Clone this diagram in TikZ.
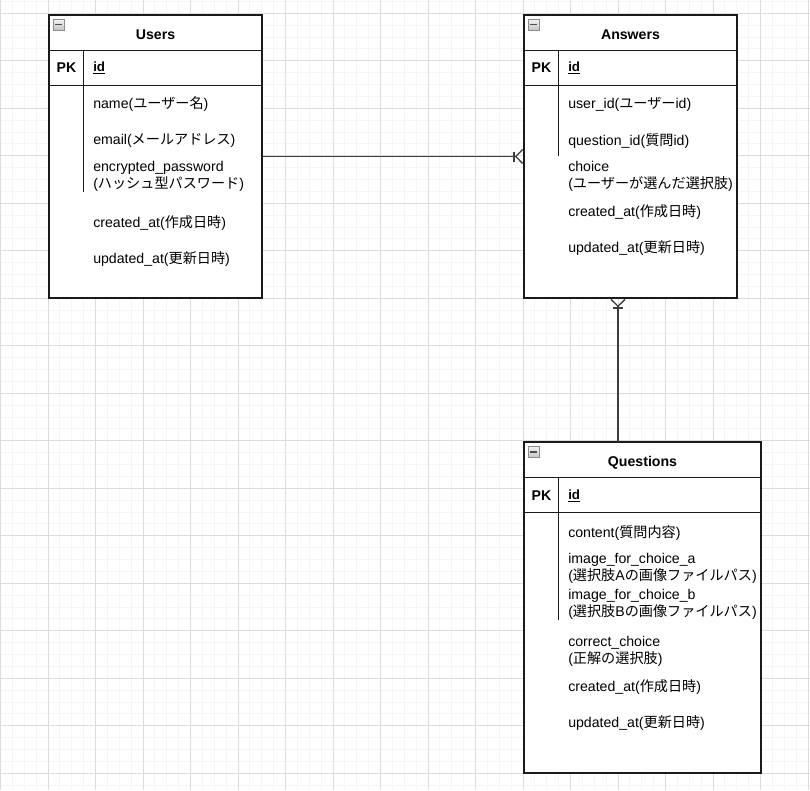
\documentclass[tikz,border=0pt]{standalone}
\usepackage{fontspec}
\setmainfont{Liberation Sans}
\newfontfamily\jpfont{Noto Sans CJK JP}
\newcommand{\ja}[1]{{\jpfont #1}}
\usetikzlibrary{arrows.meta, positioning, calc}
\definecolor{gridmaj}{HTML}{DCDCDC}
\definecolor{gridmin}{HTML}{F5F5F5}
\definecolor{ink}{HTML}{1A1A1A}
\definecolor{icongray}{HTML}{8C8C8C}

\begin{document}
\begin{tikzpicture}[
  x=0.75pt, y=-0.75pt,
  font=\fontsize{10.6pt}{12.75pt}\selectfont,
  tbl/.style={draw=ink, line width=1pt, fill=white, inner sep=0pt},
  hdr/.style={inner sep=0pt, minimum height=26.25pt, text height=10.6pt, text depth=0pt,
    font=\fontsize{10.6pt}{12pt}\selectfont\bfseries},
  pkrow/.style={draw=ink, line width=1pt, inner sep=0pt, minimum height=26.25pt},
  pklabel/.style={inner sep=0pt, font=\fontsize{10.6pt}{12pt}\selectfont\bfseries},
  fld/.style={anchor=west, align=left, inner sep=0pt},
  divider/.style={ink, line width=1pt},
  icon/.style={draw=icongray, top color=gray!10, bottom color=gray!45,
    minimum size=8pt, inner sep=0pt,
    path picture={\draw[black!70, line width=1pt]
      ([xshift=1.6pt]path picture bounding box.west) --
      ([xshift=-1.6pt]path picture bounding box.east);}},
  rel/.style={draw=ink!85, line width=1pt},
  many/.style={-{Bar[width=7.5pt, line width=1pt]
    Straight Barb[reversed, length=5.2pt, width=10.5pt, line width=1pt]}},
]

% Background grid
\useasboundingbox (0,0) rectangle (810,790);
\fill[white] (0,0) rectangle (810,790);
\foreach \i in {0,...,68} {
  \draw[gridmin, line width=0.75pt] ({0.5+\i*11.875},0) -- ++(0,790);
  \draw[gridmin, line width=0.75pt] (0,{1.425+\i*11.875}) -- ++(810,0);
}
\foreach \i in {0,...,17} {
  \draw[gridmaj, line width=0.75pt] ({0.5+\i*47.5},0) -- ++(0,790);
  \draw[gridmaj, line width=0.75pt] (0,{13.3+\i*47.5}) -- ++(810,0);
}

% =============================================
% Users
% =============================================
\node[tbl, minimum width=159.75pt, minimum height=212.25pt] (users) at (155.5,156.5) {};
\node[hdr, minimum width=159.75pt, anchor=north] (users-hd) at (users.north) {Users};
\node[icon] (users-ic) at (58.5,24.5) {};
\node[pkrow, minimum width=159.75pt, anchor=north] (users-pk) at (users-hd.south) {};
\node[pklabel] (users-pkl) at (66.5,68) {PK};
\node[fld, font=\bfseries] (users-id) at (93,68) {\underline{id}};
\draw[divider] (users-pk.north west) ++(35,0) -- ++(0,142);

\node[fld] (users-name) at (93,104) {name(\ja{ユーザー名})};
\node[fld] (users-mail) at (93,141) {email(\ja{メールアドレス})};
\node[fld] (users-pass) at (93,176) {encrypted\_password\\(\ja{ハッシュ型パスワード})};
\node[fld] (users-cat) at (93,223) {created\_at(\ja{作成日時})};
\node[fld] (users-uat) at (93,259) {updated\_at(\ja{更新日時})};

% =============================================
% Answers
% =============================================
\node[tbl, minimum width=159.75pt, minimum height=212.25pt] (answers) at (630.5,156.5) {};
\node[hdr, minimum width=159.75pt, anchor=north] (answers-hd) at (answers.north) {Answers};
\node[icon] (answers-ic) at (533.5,24.5) {};
\node[pkrow, minimum width=159.75pt, anchor=north] (answers-pk) at (answers-hd.south) {};
\node[pklabel] (answers-pkl) at (541.5,68) {PK};
\node[fld, font=\bfseries] (answers-id) at (568,68) {\underline{id}};
\draw[divider] (answers-pk.north west) ++(35,0) -- ++(0,106);

\node[fld] (answers-uid) at (568,104) {user\_id(\ja{ユーザー}id)};
\node[fld] (answers-qid) at (568,141) {question\_id(\ja{質問}id)};
\node[fld] (answers-ch) at (568,176) {choice\\(\ja{ユーザーが選んだ選択肢})};
\node[fld] (answers-cat) at (568,212) {created\_at(\ja{作成日時})};
\node[fld] (answers-uat) at (568,248) {updated\_at(\ja{更新日時})};

% =============================================
% Questions
% =============================================
\node[tbl, minimum width=177.75pt, minimum height=248.25pt] (questions) at (642.5,607.5) {};
\node[hdr, minimum width=177.75pt, anchor=north] (questions-hd) at (questions.north) {Questions};
\node[icon] (questions-ic) at (533.5,452) {};
\node[pkrow, minimum width=177.75pt, anchor=north] (questions-pk) at (questions-hd.south) {};
\node[pklabel] (questions-pkl) at (541.5,496) {PK};
\node[fld, font=\bfseries] (questions-id) at (568,496) {\underline{id}};
\draw[divider] (questions-pk.north west) ++(35,0) -- ++(0,143);

\node[fld] (questions-ct) at (568,533) {content(\ja{質問内容})};
\node[fld] (questions-ia) at (568,568) {image\_for\_choice\_a\\(\ja{選択肢}A\ja{の画像ファイルパス})};
\node[fld] (questions-ib) at (568,604) {image\_for\_choice\_b\\(\ja{選択肢}B\ja{の画像ファイルパス})};
\node[fld] (questions-cc) at (568,651) {correct\_choice\\(\ja{正解の選択肢})};
\node[fld] (questions-cat) at (568,687) {created\_at(\ja{作成日時})};
\node[fld] (questions-uat) at (568,723) {updated\_at(\ja{更新日時})};

% =============================================
% Relations
% =============================================
\coordinate (qlink) at (618,442);
\draw[rel, many] (users.east) -- (answers.west);
\draw[rel, many] (qlink) -- (qlink |- answers.south);

\end{tikzpicture}
\end{document}
